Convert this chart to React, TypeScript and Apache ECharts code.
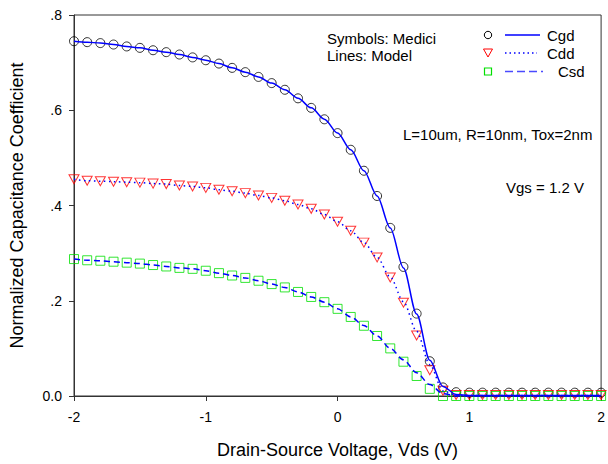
import React, { useEffect, useRef } from "react";
import * as echarts from "echarts";

const vds = [
  -2.0, -1.9, -1.8, -1.7, -1.6, -1.5, -1.4, -1.3, -1.2, -1.1, -1.0, -0.9, -0.8, -0.7,
  -0.6, -0.5, -0.4, -0.3, -0.2, -0.1, 0.0, 0.1, 0.2, 0.3, 0.4, 0.5, 0.6, 0.7, 0.8,
  0.9, 1.0, 1.1, 1.2, 1.3, 1.4, 1.5, 1.6, 1.7, 1.8, 1.9, 2.0,
];

// Medici (symbols)
const cgdMedici = [
  0.745, 0.743, 0.741, 0.738, 0.734, 0.731, 0.726, 0.722, 0.717, 0.711, 0.705, 0.698,
  0.689, 0.68, 0.67, 0.657, 0.643, 0.625, 0.605, 0.581, 0.552, 0.517, 0.473, 0.42,
  0.353, 0.271, 0.173, 0.073, 0.018, 0.008, 0.007, 0.007, 0.007, 0.007, 0.007, 0.007,
  0.007, 0.007, 0.007, 0.007, 0.007,
];
const cddMedici = [
  0.455, 0.452, 0.451, 0.45, 0.449, 0.448, 0.446, 0.445, 0.442, 0.44, 0.437, 0.433,
  0.43, 0.426, 0.421, 0.416, 0.41, 0.402, 0.393, 0.381, 0.366, 0.347, 0.322, 0.291,
  0.249, 0.196, 0.127, 0.054, 0.011, 0.002, 0.002, 0.002, 0.002, 0.002, 0.002, 0.002,
  0.002, 0.002, 0.002, 0.002, 0.002,
];
const csdMedici = [
  0.2875, 0.285, 0.284, 0.282, 0.28, 0.278, 0.275, 0.272, 0.269, 0.267, 0.263, 0.258,
  0.253, 0.248, 0.242, 0.235, 0.228, 0.2185, 0.208, 0.197, 0.183, 0.166, 0.1475, 0.126,
  0.1, 0.072, 0.042, 0.015, 0.0, 0.0, 0.0, 0.0, 0.0, 0.0, 0.0, 0.0, 0.0, 0.0, 0.0, 0.0,
  0.0,
];

// Model (lines)
const cgdModel = [
  0.745, 0.743, 0.741, 0.738, 0.734, 0.731, 0.726, 0.722, 0.717, 0.711, 0.705, 0.698,
  0.689, 0.68, 0.67, 0.657, 0.643, 0.625, 0.605, 0.581, 0.552, 0.517, 0.473, 0.42,
  0.353, 0.269, 0.172, 0.075, 0.02, 0.003, 0.001, 0.001, 0.001, 0.001, 0.001, 0.001,
  0.001, 0.001, 0.001, 0.001, 0.001,
];
const cddModel = [
  0.455, 0.452, 0.451, 0.45, 0.449, 0.448, 0.446, 0.445, 0.442, 0.44, 0.437, 0.433,
  0.43, 0.426, 0.421, 0.416, 0.41, 0.402, 0.393, 0.381, 0.366, 0.347, 0.322, 0.291,
  0.25, 0.198, 0.136, 0.066, 0.011, 0.001, 0.001, 0.001, 0.001, 0.001, 0.001, 0.001,
  0.001, 0.001, 0.001, 0.001, 0.001,
];
const csdModel = [
  0.2875, 0.285, 0.284, 0.282, 0.28, 0.278, 0.275, 0.272, 0.269, 0.267, 0.263, 0.258,
  0.253, 0.248, 0.242, 0.235, 0.228, 0.2185, 0.208, 0.197, 0.183, 0.166, 0.148, 0.126,
  0.1, 0.076, 0.049, 0.024, 0.005, 0.0, 0.0, 0.0, 0.0, 0.0, 0.0, 0.0, 0.0, 0.0, 0.0,
  0.0, 0.0,
];

const xTickLabels = ["-2", "-1", "0", "1", "2"];
const yTickLabels = ["0.0", ".2", ".4", ".6", ".8"];

const FONT = "'Liberation Sans', Arial, Helvetica, sans-serif";
const AXIS_COLOR = "#333333";

const pairs = (ys: number[]) => vds.map((x, i) => [x, ys[i]]);

export default function App() {
  const ref = useRef<HTMLDivElement>(null);

  useEffect(() => {
    document.body.style.margin = "0";
    if (!ref.current) return;
    const chart = echarts.init(ref.current, null, { renderer: "svg" });

    const txt = (text: string, x: number, y: number, align = "left") => ({
      type: "text",
      x,
      y,
      style: {
        text,
        font: `15px ${FONT}`,
        fill: "#000",
        textAlign: align,
        textVerticalAlign: "middle",
      },
    });

    chart.setOption({
      animation: false,
      backgroundColor: "#ffffff",
      grid: {
        left: 72,
        right: 3,
        top: 15,
        bottom: 65,
        show: true,
        borderColor: AXIS_COLOR,
        borderWidth: 1,
        backgroundColor: "transparent",
      },
      xAxis: {
        type: "value",
        min: -2,
        max: 2,
        interval: 1,
        name: "Drain-Source Voltage, Vds (V)",
        nameLocation: "middle",
        nameGap: 45,
        nameTextStyle: { fontFamily: FONT, fontSize: 18, color: "#000" },
        axisLine: { show: true, onZero: false, lineStyle: { color: AXIS_COLOR, width: 1 } },
        axisTick: { show: true, inside: false, length: 5, lineStyle: { color: AXIS_COLOR } },
        axisLabel: {
          margin: 14,
          fontFamily: FONT,
          fontSize: 14,
          color: "#000",
          formatter: (v: number) => xTickLabels[Math.round(v + 2)] ?? "",
        },
        splitLine: { show: false },
      },
      yAxis: {
        type: "value",
        min: 0,
        max: 0.8,
        interval: 0.2,
        name: "Normalized Capacitance Coefficient",
        nameLocation: "middle",
        nameGap: 48,
        nameRotate: 90,
        nameTextStyle: { fontFamily: FONT, fontSize: 18, color: "#000" },
        axisLine: { show: true, onZero: false, lineStyle: { color: AXIS_COLOR, width: 1 } },
        axisTick: { show: true, inside: false, length: 5, lineStyle: { color: AXIS_COLOR } },
        axisLabel: {
          margin: 12,
          fontFamily: FONT,
          fontSize: 14,
          color: "#000",
          formatter: (v: number) => yTickLabels[Math.round(v / 0.2)] ?? "",
        },
        splitLine: { show: false },
      },
      series: [
        {
          name: "Cgd Medici",
          type: "scatter",
          data: pairs(cgdMedici),
          symbol: "circle",
          symbolSize: 9,
          clip: false,
          itemStyle: { color: "rgba(0,0,0,0)", borderColor: "#000", borderWidth: 1 },
        },
        {
          name: "Cdd Medici",
          type: "scatter",
          data: pairs(cddMedici),
          symbol: "triangle",
          symbolSize: [10, 9],
          symbolRotate: 180,
          clip: false,
          itemStyle: { color: "rgba(0,0,0,0)", borderColor: "#ff0000", borderWidth: 1 },
        },
        {
          name: "Csd Medici",
          type: "scatter",
          data: pairs(csdMedici),
          symbol: "rect",
          symbolSize: 9,
          clip: false,
          itemStyle: { color: "rgba(0,0,0,0)", borderColor: "#00e000", borderWidth: 1 },
        },
        {
          name: "Cgd Model",
          type: "line",
          data: pairs(cgdModel),
          showSymbol: false,
          smooth: 0.3,
          smoothMonotone: "x",
          clip: false,
          lineStyle: { color: "#0000ff", width: 1.5, type: "solid" },
        },
        {
          name: "Cdd Model",
          type: "line",
          data: pairs(cddModel),
          showSymbol: false,
          smooth: 0.3,
          smoothMonotone: "x",
          clip: false,
          lineStyle: { color: "#0000ff", width: 1.5, type: [1.5, 3.5] },
        },
        {
          name: "Csd Model",
          type: "line",
          data: pairs(csdModel),
          showSymbol: false,
          smooth: 0.3,
          smoothMonotone: "x",
          clip: false,
          lineStyle: { color: "#0000ff", width: 1.5, type: [6, 4] },
        },
      ],
      graphic: [
        txt("Symbols: Medici", 327, 38),
        txt("Lines: Model", 327, 55),
        {
          type: "circle",
          shape: { cx: 488, cy: 35, r: 3.7 },
          style: { fill: "none", stroke: "#000", lineWidth: 1 },
        },
        {
          type: "line",
          shape: { x1: 505, y1: 35, x2: 540, y2: 35 },
          style: { stroke: "#0000ff", lineWidth: 1.5 },
        },
        txt("Cgd", 547, 35),
        {
          type: "polygon",
          shape: { points: [[483.5, 49], [492.5, 49], [488, 57]] },
          style: { fill: "none", stroke: "#ff0000", lineWidth: 1 },
        },
        {
          type: "line",
          shape: { x1: 505, y1: 53, x2: 537, y2: 53 },
          style: { stroke: "#0000ff", lineWidth: 1.5, lineDash: [1.5, 3] },
        },
        txt("Cdd", 547, 53),
        {
          type: "rect",
          shape: { x: 484.5, y: 68, width: 7, height: 7 },
          style: { fill: "none", stroke: "#00e000", lineWidth: 1.2 },
        },
        {
          type: "line",
          shape: { x1: 505, y1: 71.5, x2: 543, y2: 71.5 },
          style: { stroke: "#4a4aff", lineWidth: 1.5, lineDash: [8, 4] },
        },
        txt("Csd", 558, 71.5),
        txt("L=10um, R=10nm, Tox=2nm", 403, 134),
        txt("Vgs = 1.2 V", 506, 187),
      ],
    });

    return () => chart.dispose();
  }, []);

  return <div ref={ref} style={{ width: 608, height: 464 }} />;
}
